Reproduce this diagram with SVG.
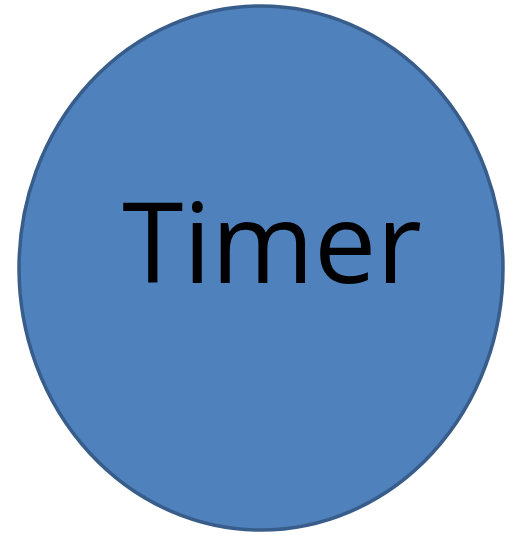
<svg xmlns="http://www.w3.org/2000/svg" width="519" height="535" viewBox="0 0 519 535">
<style>
.node{fill:#4f81bd;stroke:#385d8a;stroke-width:3.5}
.lbl{font-family:"Open Sans","Noto Sans",sans-serif;fill:#000}
</style>
<rect width="519" height="535" fill="#fff"/>
<g id="connectors"></g>
<g id="timer">
<ellipse class="node" cx="261" cy="268" rx="242" ry="262"/>
<text class="lbl" x="272" y="283" font-size="111" text-anchor="middle">Timer</text>
</g>
</svg>
